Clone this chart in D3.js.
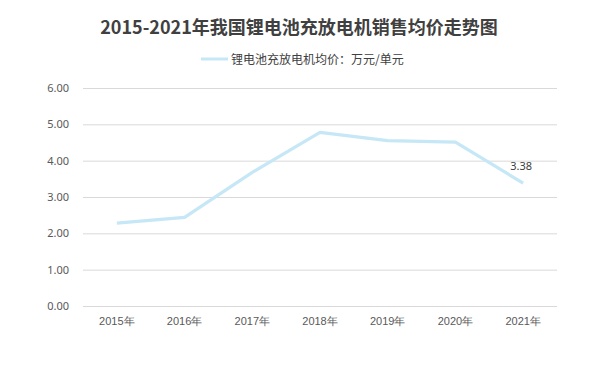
<!DOCTYPE html>
<html><head><meta charset="utf-8">
<script src="https://cdn.jsdelivr.net/npm/d3@7"></script>
<style>body{margin:0;background:#fff;}svg{display:block;font-family:"Noto Sans CJK SC","Noto Sans",sans-serif;}</style>
</head><body>
<svg id="c" width="599" height="373"></svg>
<script>
const years = ["2015年","2016年","2017年","2018年","2019年","2020年","2021年"];
const prices = [2.28, 2.44, 3.68, 4.78, 4.55, 4.51, 3.38];
const yTicks = [0,1,2,3,4,5,6];
const title = "2015-2021年我国锂电池充放电机销售均价走势图";
const seriesName = "锂电池充放电机均价：万元/单元";

const svg = d3.select("#c");
const m = {l:83, r:557, t:88, b:306};
const x = d3.scaleBand().domain(years).range([m.l, m.r]);
const y = d3.scaleLinear().domain([0,6]).range([m.b, m.t]);

svg.append("rect").attr("width",599).attr("height",373).attr("fill","#fff");

svg.append("text").attr("x",299).attr("y",34).attr("text-anchor","middle")
  .attr("font-size",18).attr("font-weight","bold").attr("fill","#404040").text(title);

svg.append("line").attr("x1",201).attr("x2",228).attr("y1",59).attr("y2",59)
  .attr("stroke","#c6e7f6").attr("stroke-width",3);
svg.append("text").attr("x",231).attr("y",63.5).attr("font-size",12).attr("fill","#404040").text(seriesName);

const ga = svg.append("g").attr("transform",`translate(${m.l},0)`)
  .call(d3.axisLeft(y).tickValues(yTicks).tickFormat(d3.format(".2f")).tickSize(-(m.r-m.l)).tickPadding(14));
ga.select(".domain").remove();
ga.selectAll(".tick line").attr("stroke","#d9d9d9");
ga.selectAll(".tick text").attr("font-size",11).attr("fill","#595959").attr("font-family","'Noto Sans',sans-serif");

const gx = svg.append("g").attr("transform",`translate(0,${m.b})`)
  .call(d3.axisBottom(x).tickSize(0).tickPadding(11));
gx.select(".domain").remove();
gx.selectAll(".tick text").attr("font-size",11).attr("fill","#595959");

const line = d3.line().x((d,i)=>x(years[i])+x.bandwidth()/2).y(d=>y(d));
svg.append("path").datum(prices).attr("d",line).attr("fill","none")
  .attr("stroke","#c6e7f6").attr("stroke-width",3.2).attr("stroke-linejoin","round");

const li = prices.length-1;
svg.append("text").attr("x",x(years[li])+x.bandwidth()/2-2).attr("y",y(prices[li])-13)
  .attr("text-anchor","middle").attr("font-size",11).attr("fill","#404040")
  .attr("font-family","'Noto Sans',sans-serif").text(prices[li].toFixed(2));
</script>
</body></html>
